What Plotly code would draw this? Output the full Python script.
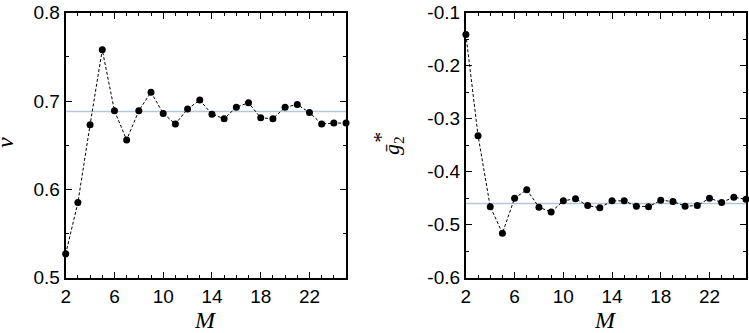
import plotly.graph_objects as go
from plotly.subplots import make_subplots

M = list(range(2, 26))
nu = [0.527, 0.585, 0.673, 0.758, 0.689, 0.656, 0.689, 0.710, 0.686, 0.674, 0.691, 0.701,
      0.685, 0.680, 0.693, 0.698, 0.681, 0.680, 0.693, 0.696, 0.687, 0.674, 0.675, 0.675]
g2 = [-0.141, -0.332, -0.466, -0.516, -0.450, -0.434, -0.467, -0.476, -0.455, -0.451, -0.464, -0.468,
      -0.455, -0.455, -0.465, -0.466, -0.454, -0.456, -0.465, -0.464, -0.450, -0.458, -0.448, -0.452]
nu_ref = 0.688
g2_ref = -0.460

xticks = [2, 6, 10, 14, 18, 22]
x_minor = list(range(2, 26))
nu_ticks = [0.5, 0.6, 0.7, 0.8]
nu_minor = [0.55, 0.65, 0.75]
g2_ticks = [-0.6, -0.5, -0.4, -0.3, -0.2, -0.1]
g2_minor = [-0.55, -0.45, -0.35, -0.25, -0.15]

fig = make_subplots(rows=1, cols=2)
for col, ys, ref in [(1, nu, nu_ref), (2, g2, g2_ref)]:
    fig.add_trace(go.Scatter(x=[2, 25], y=[ref, ref], mode="lines",
                             line=dict(color="#b4c6d8", width=1.5), showlegend=False,
                             cliponaxis=True), row=1, col=col)
    fig.add_trace(go.Scatter(x=M, y=ys, mode="lines+markers",
                             line=dict(color="black", width=1, dash="3px,2px"),
                             marker=dict(color="black", size=7), showlegend=False,
                             cliponaxis=False), row=1, col=col)

tickfont = dict(family="Liberation Sans, Arial, sans-serif", size=19, color="black")
minor_style = dict(tickmode="array", ticks="inside", ticklen=3, tickwidth=1.3, tickcolor="black")
common_x = dict(range=[2, 25], tickmode="array", tickvals=xticks, ticks="inside", ticklen=6,
                tickwidth=1.3, tickcolor="black", showline=True, linecolor="black", linewidth=2,
                mirror="ticks", showgrid=False, zeroline=False, tickfont=tickfont,
                minor=dict(**minor_style, tickvals=x_minor), automargin=False)
fig.update_xaxes(**common_x, domain=[0.0877, 0.462], row=1, col=1)
fig.update_xaxes(**common_x, domain=[0.622, 0.996], row=1, col=2)

common_y = dict(ticks="inside", ticklen=6, tickwidth=1.3, tickcolor="black", showline=True,
                linecolor="black", linewidth=2, mirror="ticks", showgrid=False, zeroline=False,
                tickfont=tickfont, automargin=False, domain=[0.166, 0.962])
fig.update_yaxes(**common_y, range=[0.5, 0.8], tickmode="array", tickvals=nu_ticks,
                 ticktext=["0.5", "0.6", "0.7", "0.8"],
                 minor=dict(**minor_style, tickvals=nu_minor), row=1, col=1)
fig.update_yaxes(**common_y, range=[-0.6, -0.1], tickmode="array", tickvals=g2_ticks,
                 ticktext=["-0.6", "-0.5", "-0.4", "-0.3", "-0.2", "-0.1"],
                 minor=dict(**minor_style, tickvals=g2_minor), row=1, col=2)

serif = dict(family="Liberation Serif, Times New Roman, serif", size=24, color="black")
label_font = dict(family="Liberation Serif, Times New Roman, serif", size=22, color="black")
fig.add_annotation(x=(0.0877 + 0.462) / 2, y=0.04, xref="paper", yref="paper", text="<i>M</i>",
                   showarrow=False, font=serif, yanchor="middle", xanchor="center")
fig.add_annotation(x=(0.622 + 0.996) / 2, y=0.04, xref="paper", yref="paper", text="<i>M</i>",
                   showarrow=False, font=serif, yanchor="middle", xanchor="center")
fig.add_annotation(x=0.007, y=0.571, xref="paper", yref="paper", text="<i>ν</i>",
                   showarrow=False, font=serif, textangle=-90, xanchor="center", yanchor="middle")
fig.add_annotation(x=0.525, y=0.562, xref="paper", yref="paper",
                   text="<i>ḡ</i><sub>2</sub>",
                   showarrow=False, font=label_font, textangle=-90, xanchor="center", yanchor="middle")
fig.add_annotation(x=0.508, y=0.588, xref="paper", yref="paper",
                   text="*",
                   showarrow=False, font=label_font, textangle=-90, xanchor="center", yanchor="middle")

fig.update_layout(width=749, height=333, margin=dict(l=0, r=0, t=0, b=0),
                  paper_bgcolor="white", plot_bgcolor="white")
fig.write_html("out.html", config=dict(displayModeBar=False),
               post_script="document.body.style.margin='0';document.body.style.padding='0';")
